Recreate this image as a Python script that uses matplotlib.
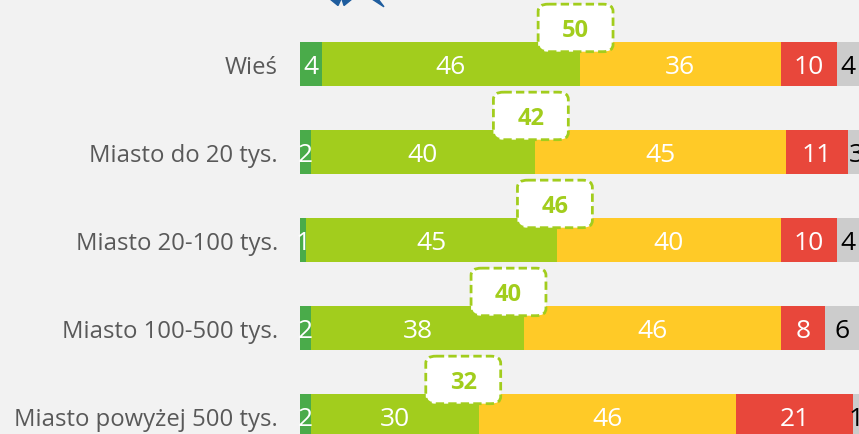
import matplotlib.pyplot as plt
from matplotlib.patches import FancyBboxPatch, Polygon

# data
categories = ['Wieś', 'Miasto do 20 tys.', 'Miasto 20-100 tys.',
              'Miasto 100-500 tys.', 'Miasto powyżej 500 tys.']
s1 = [4, 2, 1, 2, 2]
s2 = [46, 40, 45, 38, 30]
s3 = [36, 45, 40, 46, 46]
s4 = [10, 11, 10, 8, 21]
s5 = [4, 3, 4, 6, 1]
totals = [50, 42, 46, 40, 32]
box_shift = [-0.7, -0.7, -0.4, -2.7, -2.8]

colors = ['#4aab4a', '#a2cd1d', '#ffca27', '#e8473b', '#cccccc']
text_colors = ['white', 'white', 'white', 'white', 'black']
bg = '#f2f2f2'

plt.rcParams['font.family'] = ['Open Sans', 'DejaVu Sans']

fig = plt.figure(figsize=(8.59, 4.35), dpi=100, facecolor=bg)
ax = fig.add_axes([300 / 859, 0, 559 / 859, 1])
ax.set_facecolor(bg)

ys = list(range(len(categories)))
left = [0] * len(categories)
for vals, c, tc in zip([s1, s2, s3, s4, s5], colors, text_colors):
    ax.barh(ys, vals, left=left, height=0.5, color=c, edgecolor='none')
    for y, v, l in zip(ys, vals, left):
        ax.text(l + v / 2, y + 0.03, str(v), ha='center', va='center',
                color=tc, fontsize=19)
    left = [l + v for l, v in zip(left, vals)]

# callout boxes with the sum of first two segments
bw, bh = 13.4, 0.54
for y, t, sh in zip(ys, totals, box_shift):
    cx = t + sh
    cy = y - 0.41
    box = FancyBboxPatch((cx - bw / 2, cy - bh / 2), bw, bh,
                         boxstyle='round,pad=0,rounding_size=1.8',
                         mutation_aspect=0.045,
                         facecolor='white', edgecolor='#a2cd1d',
                         linewidth=2, linestyle=(0, (3, 1.5)), zorder=5)
    ax.add_patch(box)
    ax.text(cx, cy + 0.02, str(t), ha='center', va='center', color='#a2cd1d',
            fontsize=17, fontweight='bold', zorder=6)

ax.set_xlim(0, 100)
ax.set_ylim(4 + 18 / 88, -65 / 88)
ax.set_yticks(ys)
ax.set_yticklabels(categories, fontsize=17.2, color='#595959')
ax.tick_params(axis='y', length=0, pad=16)
ax.set_xticks([])
for s in ax.spines.values():
    s.set_visible(False)

# partial logo at the top edge
fig.patches.append(Polygon([[330 / 859, 1], [341 / 859, 1], [338 / 859, 0.985]],
                           closed=True, color='#1f5d9e', transform=fig.transFigure))
fig.patches.append(Polygon([[342 / 859, 1], [352 / 859, 1], [344 / 859, 0.985]],
                           closed=True, color='#1f5d9e', transform=fig.transFigure))
fig.patches.append(Polygon([[372 / 859, 1], [378 / 859, 1], [384 / 859, 0.982]],
                           closed=True, color='#1f5d9e', transform=fig.transFigure))

fig.savefig('out.png', dpi=100, facecolor=bg)
